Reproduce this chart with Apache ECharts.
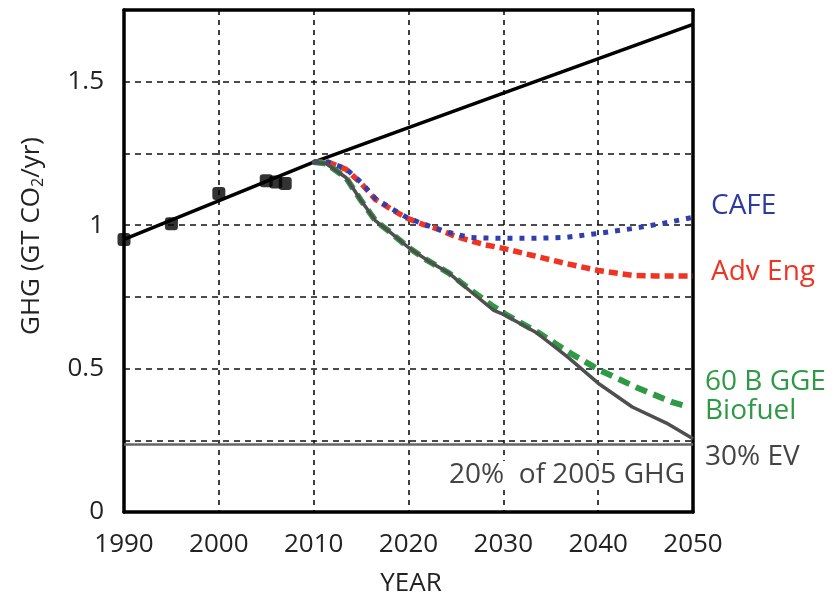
<!DOCTYPE html>
<html>
<head>
<meta charset="utf-8">
<script src="https://cdn.jsdelivr.net/npm/echarts@6/dist/echarts.min.js"></script>
<style>html,body{margin:0;padding:0;background:#fff}#c{width:833px;height:597px}</style>
</head>
<body>
<div id="c"></div>
<script>
// Historical trend line (business as usual)
const trendYears = [1990, 2010, 2030, 2050];
const trendValues = [0.95, 1.22, 1.46, 1.70];
// Historical observed points
const histYears = [1990, 1995, 2000, 2005, 2006, 2007];
const histValues = [0.95, 1.005, 1.11, 1.155, 1.15, 1.145];
// CAFE scenario
const cafeYears = [2010, 2011.5, 2013.4, 2015, 2016.5, 2018.2, 2019.8, 2021.4, 2023.2, 2025, 2026.6, 2028.3, 2030, 2033, 2036.5, 2040, 2043.6, 2046.8, 2050];
const cafeValues = [1.22, 1.22, 1.197, 1.149, 1.093, 1.058, 1.027, 1.006, 0.985, 0.968, 0.957, 0.955, 0.954, 0.954, 0.957, 0.971, 0.988, 1.006, 1.027];
// Advanced engine scenario
const advYears = [2010, 2011.5, 2013.4, 2015, 2016.5, 2018.2, 2019.8, 2021.5, 2023.2, 2025, 2026.4, 2028, 2030, 2033, 2036.5, 2040, 2043.6, 2046, 2050];
const advValues = [1.22, 1.22, 1.195, 1.146, 1.09, 1.055, 1.025, 1.003, 0.985, 0.96, 0.947, 0.932, 0.919, 0.895, 0.867, 0.842, 0.825, 0.823, 0.823];
// 60 B GGE biofuel scenario
const bioYears = [2010, 2011.3, 2013.4, 2015, 2016.5, 2017.9, 2020, 2022, 2024.3, 2026.4, 2029, 2030.2, 2033.6, 2037.1, 2040.2, 2044, 2047.8, 2049.2];
const bioValues = [1.22, 1.215, 1.166, 1.086, 1.016, 0.98, 0.922, 0.877, 0.832, 0.778, 0.715, 0.69, 0.627, 0.553, 0.494, 0.435, 0.383, 0.37];
// 30% EV scenario
const evYears = [2009.8, 2011.3, 2013.4, 2015, 2016.5, 2017.9, 2020, 2022, 2024.3, 2026.4, 2029, 2030.2, 2033.6, 2036.8, 2040, 2043.6, 2047.2, 2050];
const evValues = [1.22, 1.215, 1.166, 1.086, 1.016, 0.98, 0.922, 0.877, 0.832, 0.773, 0.703, 0.686, 0.623, 0.54, 0.449, 0.366, 0.31, 0.255];
// 20% of 2005 GHG reference level
const target20 = 0.235;
// Axis ticks
const xTicks = [1990, 2000, 2010, 2020, 2030, 2040, 2050];
const yLabelTicks = [0, 0.5, 1, 1.5];

const pair = (xs, ys) => xs.map((x, i) => [x, ys[i]]);
const FONT = '"Open Sans", "Liberation Sans", sans-serif';
const frameAxis = {show: true, onZero: false, lineStyle: {color: '#000', width: 3.5}};

const chart = echarts.init(document.getElementById('c'), null, {renderer: 'canvas'});
chart.setOption({
  animation: false,
  backgroundColor: '#fff',
  grid: {left: 124, right: 140, top: 10, bottom: 85},
  xAxis: [{
    type: 'value', min: 1990, max: 2050, interval: 10,
    axisLine: frameAxis,
    axisTick: {show: false},
    axisLabel: {color: '#222', fontSize: 26, fontFamily: FONT, margin: 20,
      formatter: v => xTicks.includes(v) ? String(v) : ''},
    splitLine: {show: true, lineStyle: {color: '#111', type: [5, 5], width: 1.6}}
  }, {
    type: 'value', position: 'top', min: 1990, max: 2050, interval: 10,
    axisLine: frameAxis, axisTick: {show: false}, axisLabel: {show: false}, splitLine: {show: false}
  }],
  yAxis: [{
    type: 'value', min: 0, max: 1.75, interval: 0.25,
    axisLine: frameAxis,
    axisTick: {show: false},
    axisLabel: {color: '#222', fontSize: 26, fontFamily: FONT, margin: 20,
      formatter: v => yLabelTicks.some(t => Math.abs(t - v) < 1e-6) ? String(v) : ''},
    splitLine: {show: true, lineStyle: {color: '#111', type: [6, 5], width: 1.6}}
  }, {
    type: 'value', position: 'right', min: 0, max: 1.75, interval: 0.25,
    axisLine: frameAxis, axisTick: {show: false}, axisLabel: {show: false}, splitLine: {show: false}
  }],
  series: [
    {type: 'line', data: pair(trendYears, trendValues), symbol: 'none', lineStyle: {color: '#000', width: 3.5}, z: 3},
    {type: 'scatter', data: pair(histYears, histValues), symbol: 'roundRect', symbolSize: 13, itemStyle: {color: '#000'}, z: 4},
    {type: 'line', data: pair(cafeYears, cafeValues), symbol: 'none',
      lineStyle: {color: '#2f3fb0', width: 5, type: [5, 7]}, z: 5},
    {type: 'line', data: pair(advYears, advValues), symbol: 'none',
      lineStyle: {color: '#ee3524', width: 5.5, type: [9, 5]}, z: 4},
    {type: 'line', data: pair(bioYears, bioValues), symbol: 'none',
      lineStyle: {color: '#2e9a45', width: 6, type: [12, 7]}, z: 4},
    {type: 'line', data: pair(evYears, evValues), symbol: 'none',
      lineStyle: {color: '#4f4f4f', width: 3.5}, z: 5},
    {type: 'line', data: [[1990, target20], [2050, target20]], symbol: 'none',
      lineStyle: {color: '#666', width: 2.5}, z: 3}
  ],
  graphic: [
    {type: 'text', left: 19, top: 137, rotation: Math.PI / 2, originX: 0, originY: 0,
      style: {text: '{a|GHG (GT CO}{s|2}{a|/yr)}', fill: '#222', rich: {
        a: {fontSize: 26, fontFamily: FONT, fill: '#222'},
        s: {fontSize: 16, fontFamily: FONT, fill: '#222', padding: [12, 0, 0, 0]}}}},
    {type: 'text', x: 411, y: 584, style: {text: 'YEAR', fontSize: 26, fontFamily: FONT, fill: '#222', textAlign: 'center', textVerticalAlign: 'middle'}},
    {type: 'text', x: 711, y: 206, style: {text: 'CAFE', fontSize: 28, fontWeight: 500, fontFamily: FONT, fill: '#2e3b9e', textVerticalAlign: 'middle'}},
    {type: 'text', x: 711, y: 272, style: {text: 'Adv Eng', fontSize: 28, fontWeight: 500, fontFamily: FONT, fill: '#ee3524', textVerticalAlign: 'middle'}},
    {type: 'text', x: 705, y: 382, style: {text: '60 B GGE', fontSize: 28, fontWeight: 500, fontFamily: FONT, fill: '#2e9a45', textVerticalAlign: 'middle'}},
    {type: 'text', x: 705, y: 411, style: {text: 'Biofuel', fontSize: 28, fontWeight: 500, fontFamily: FONT, fill: '#2e9a45', textVerticalAlign: 'middle'}},
    {type: 'text', x: 705, y: 457, style: {text: '30% EV', fontSize: 28, fontWeight: 500, fontFamily: FONT, fill: '#444', textVerticalAlign: 'middle'}},
    {type: 'text', x: 687, y: 475, z: 100, style: {text: '20%  of 2005 GHG', fontSize: 28, fontWeight: 500, fontFamily: FONT, fill: '#444', textAlign: 'right', textVerticalAlign: 'middle', backgroundColor: '#fff', padding: [0, 2, 0, 2]}}
  ]
});
</script>
</body>
</html>
